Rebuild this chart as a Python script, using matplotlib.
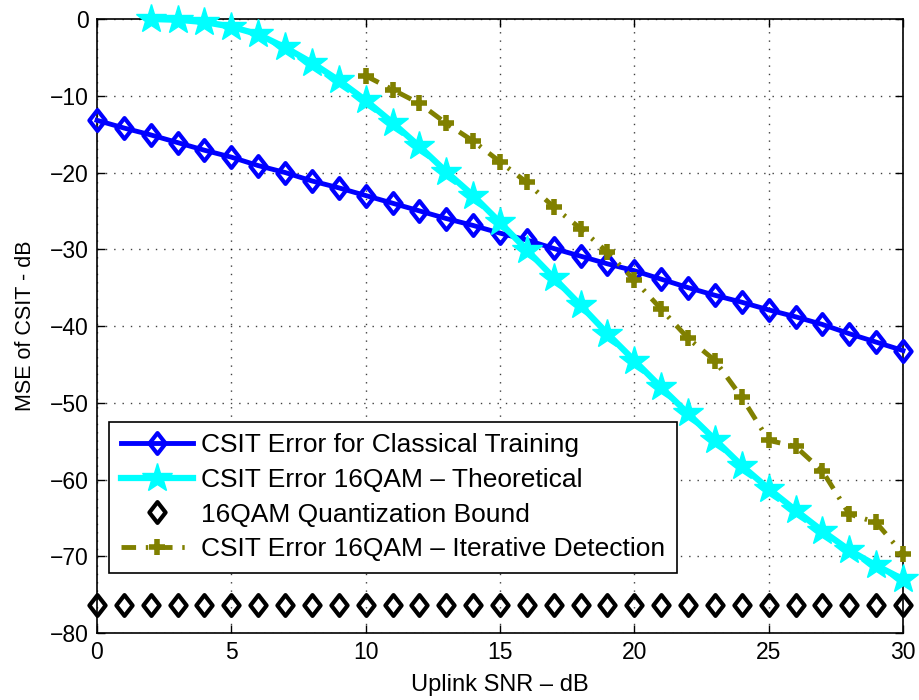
import matplotlib
matplotlib.use("Agg")
import matplotlib.pyplot as plt
import numpy as np
from matplotlib.path import Path

plt.rcParams['font.family'] = ['Liberation Sans', 'DejaVu Sans']

snr = list(range(0, 31))
classical = [-13.2, -14.2, -15.1, -16.1, -17.1, -18.0, -19.1, -20.0, -21.1, -22.0,
             -23.0, -24.0, -25.0, -26.0, -26.9, -27.9, -28.8, -29.9, -30.9, -31.9,
             -32.8, -33.9, -35.0, -36.0, -36.9, -37.9, -38.8, -39.8, -41.0, -42.1, -43.2]
snr_theo = list(range(2, 31))
theoretical = [0.0, -0.1, -0.4, -1.0, -2.0, -3.7, -5.7, -8.0, -10.6, -13.5, -16.6,
               -19.9, -23.0, -26.5, -30.1, -33.7, -37.3, -41.0, -44.5, -48.0, -51.4,
               -54.8, -58.2, -61.2, -64.0, -66.7, -69.2, -71.2, -73.0]
bound = [-76.3] * 31
snr_iter = list(range(10, 31))
iterative = [-7.4, -9.2, -11.0, -13.6, -15.9, -18.6, -21.3, -24.5, -27.3, -30.4,
             -34.0, -37.8, -41.6, -44.5, -49.3, -54.9, -55.7, -58.9, -64.5, -65.6, -69.7]

labels = ['CSIT Error for Classical Training',
          'CSIT Error 16QAM – Theoretical',
          '16QAM Quantization Bound',
          'CSIT Error 16QAM – Iterative Detection']
xticks = [0, 5, 10, 15, 20, 25, 30]
yticks = [-80, -70, -60, -50, -40, -30, -20, -10, 0]

diamond = Path([(0, 1), (0.78, 0), (0, -1), (-0.78, 0), (0, 1)],
               [Path.MOVETO, Path.LINETO, Path.LINETO, Path.LINETO, Path.CLOSEPOLY])

fig = plt.figure(figsize=(9.2, 7), dpi=100)
ax = fig.add_axes([97/920, 67/700, 806/920, 614/700])

ax.plot(snr, classical, color='#0000FF', lw=3.5, marker=diamond, ms=15,
        mfc='none', mec='#0000FF', mew=3, label=labels[0], clip_on=False, zorder=3)
ax.plot(snr_theo, theoretical, color='#00FFFF', lw=4.5, marker='*', ms=22,
        mfc='#00FFFF', mec='#00FFFF', label=labels[1], clip_on=False, zorder=4)
ax.plot(snr, bound, ls='none', marker=diamond, ms=15, mfc='none', mec='black',
        mew=3, label=labels[2], clip_on=False, zorder=3)
ax.plot(snr_iter, iterative, color='#808000', lw=3.5, ls=(0, (3, 2, 0.5, 2)),
        marker='+', ms=11, mew=4, mec='#808000', label=labels[3], clip_on=False, zorder=3)

ax.set_xlim(0, 30)
ax.set_ylim(-80, 0)
ax.set_xticks(xticks)
ax.set_yticks(yticks)
ax.set_xticklabels([str(t) for t in xticks])
ax.set_yticklabels([str(t).replace('-', '−') for t in yticks])
ax.tick_params(direction='in', top=True, right=True, labelsize=16.5, length=6, width=1, pad=6)
ax.grid(True, ls=(0, (1, 5)), color='black', lw=1, alpha=0.75)
for s in ax.spines.values():
    s.set_linewidth(1.2)

ax.set_xlabel('Uplink SNR – dB', fontsize=17, labelpad=7)
ax.set_ylabel('MSE of CSIT - dB', fontsize=15.5, labelpad=10)

leg = ax.legend(loc='lower left', bbox_to_anchor=(0.0149, 0.0977), borderaxespad=0,
                fontsize=19, handlelength=2.75, handletextpad=0.3, labelspacing=0.4,
                borderpad=0.45, fancybox=False, framealpha=1, edgecolor='black')
leg.get_frame().set_linewidth(1.2)
leg.set_zorder(6)

fig.savefig('out.png', dpi=100)
